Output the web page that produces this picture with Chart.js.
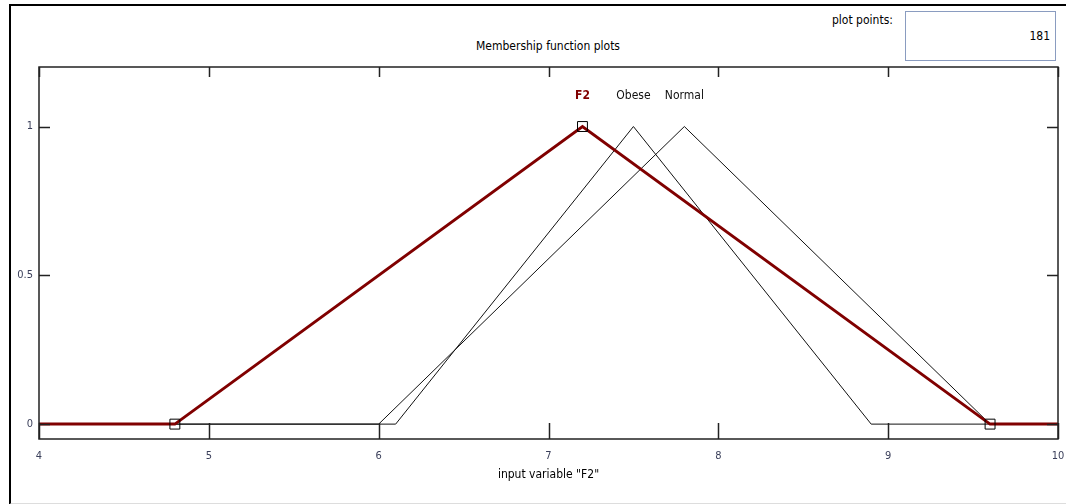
<!DOCTYPE html>
<html>
<head>
<meta charset="utf-8">
<script src="https://cdn.jsdelivr.net/npm/chart.js@4/dist/chart.umd.min.js"></script>
<style>
  html, body { margin: 0; padding: 0; background: #fff; }
  body { width: 1066px; height: 504px; position: relative; overflow: hidden;
         font-family: "DejaVu Sans Condensed", "Liberation Sans Narrow", sans-serif; }
  #frame { position: absolute; left: 9px; top: 4px; width: 1070px; height: 497px;
           border-left: 2px solid #000; border-top: 2px solid #000; border-bottom: 2px solid #ddd; }
  #title { position: absolute; left: 0; width: 1096px; top: 39px; text-align: center; font-size: 12px; color: #000; }
  #ppLabel { position: absolute; left: 832px; top: 13px; font-size: 12px; color: #000; }
  #ppBox { position: absolute; left: 905px; top: 11px; width: 151px; height: 50px;
           border: 1px solid #8a9cc0; box-sizing: border-box; }
  #ppVal { position: absolute; right: 5px; top: 17px; font-size: 12px; color: #000; }
  #chartWrap { position: absolute; left: 0; top: 0; width: 1066px; height: 504px; }
</style>
</head>
<body>
<div id="frame"></div>
<div id="title">Membership function plots</div>
<div id="ppLabel">plot points:</div>
<div id="ppBox"><span id="ppVal">181</span></div>
<div id="chartWrap"><canvas id="mf"></canvas></div>
<script>
// Membership functions (triangles: a, b, c) on input range 4..10
const X_RANGE = [4, 10];
const X_TICKS = [4, 5, 6, 7, 8, 9, 10];
const Y_TICKS = [0, 0.5, 1];

const MF_NAMES = ["F2", "Obese", "Normal"];
const MF_PARAMS = [
  [4.8, 7.2, 9.6],
  [6.1, 7.5, 8.9],
  [6.0, 7.8, 9.6],
];
const MF_COLORS = ["#800000", "#111111", "#111111"];
const MF_WIDTHS = [3, 1, 1];
const SELECTED = 0;

function trianglePoints(p) {
  return [
    { x: X_RANGE[0], y: 0 },
    { x: p[0], y: 0 },
    { x: p[1], y: 1 },
    { x: p[2], y: 0 },
    { x: X_RANGE[1], y: 0 },
  ];
}

const datasets = MF_NAMES.map((name, i) => ({
  label: name,
  data: trianglePoints(MF_PARAMS[i]),
  borderColor: MF_COLORS[i],
  borderWidth: MF_WIDTHS[i],
  tension: 0,
  pointStyle: "rect",
  pointRadius: i === SELECTED ? [0, 7, 7, 7, 0] : 0,
  pointBackgroundColor: "rgba(0,0,0,0)",
  pointBorderColor: "#000",
  pointBorderWidth: 1,
  order: i === SELECTED ? 0 : 1,
})).reverse();

const FONT_FAMILY = "'DejaVu Sans Condensed', 'Liberation Sans Narrow', sans-serif";
const TICK_FONT = { family: FONT_FAMILY, size: 11 };

// inward ticks, plot box and MF name labels
const matlabAxes = {
  id: "matlabAxes",
  afterDraw(chart) {
    const { ctx, chartArea: a, scales } = chart;
    ctx.save();
    ctx.strokeStyle = "#222";
    ctx.lineWidth = 1.5;
    ctx.strokeRect(a.left, a.top, a.right - a.left, a.bottom - a.top);
    X_TICKS.forEach((v) => {
      const px = Math.round(scales.x.getPixelForValue(v)) + 0.5;
      ctx.beginPath();
      ctx.moveTo(px, a.bottom); ctx.lineTo(px, a.bottom - 16);
      ctx.moveTo(px, a.top); ctx.lineTo(px, a.top + 10);
      ctx.stroke();
    });
    Y_TICKS.forEach((v) => {
      const py = Math.round(scales.y.getPixelForValue(v)) + 0.5;
      ctx.beginPath();
      ctx.moveTo(a.left, py); ctx.lineTo(a.left + 11, py);
      ctx.moveTo(a.right, py); ctx.lineTo(a.right - 11, py);
      ctx.stroke();
    });
    ctx.textAlign = "center";
    ctx.textBaseline = "middle";
    MF_NAMES.forEach((name, i) => {
      ctx.fillStyle = MF_COLORS[i];
      ctx.font = (i === SELECTED ? "bold " : "") + "12px " + FONT_FAMILY;
      ctx.fillText(name, scales.x.getPixelForValue(MF_PARAMS[i][1]), 96);
    });
    ctx.restore();
  },
};

new Chart(document.getElementById("mf"), {
  type: "line",
  data: { datasets },
  plugins: [matlabAxes],
  options: {
    responsive: true,
    maintainAspectRatio: false,
    animation: false,
    layout: { padding: { top: 67, right: 8, left: 0, bottom: 22 } },
    plugins: { legend: { display: false }, tooltip: { enabled: false } },
    scales: {
      x: {
        type: "linear",
        min: X_RANGE[0],
        max: X_RANGE[1],
        afterBuildTicks: (s) => { s.ticks = X_TICKS.map((v) => ({ value: v })); },
        afterFit: (s) => { s.height = 43; s.paddingLeft = 0; s.paddingRight = 0; },
        grid: { display: false, drawTicks: false },
        border: { display: false },
        ticks: { color: "#3a3f5a", font: TICK_FONT, padding: 11, maxRotation: 0 },
        title: { display: true, text: 'input variable "F2"', color: "#000",
                 font: { family: FONT_FAMILY, size: 12 }, padding: { top: 2, bottom: 0 } },
      },
      y: {
        min: -0.05,
        max: 1.2,
        afterBuildTicks: (s) => { s.ticks = Y_TICKS.map((v) => ({ value: v })); },
        afterFit: (s) => { s.width = 39; s.paddingTop = 0; s.paddingBottom = 0; },
        grid: { display: false, drawTicks: false },
        border: { display: false },
        ticks: { color: "#3a3f5a", font: TICK_FONT, padding: 6, callback: (v) => String(v) },
      },
    },
  },
});
</script>
</body>
</html>
